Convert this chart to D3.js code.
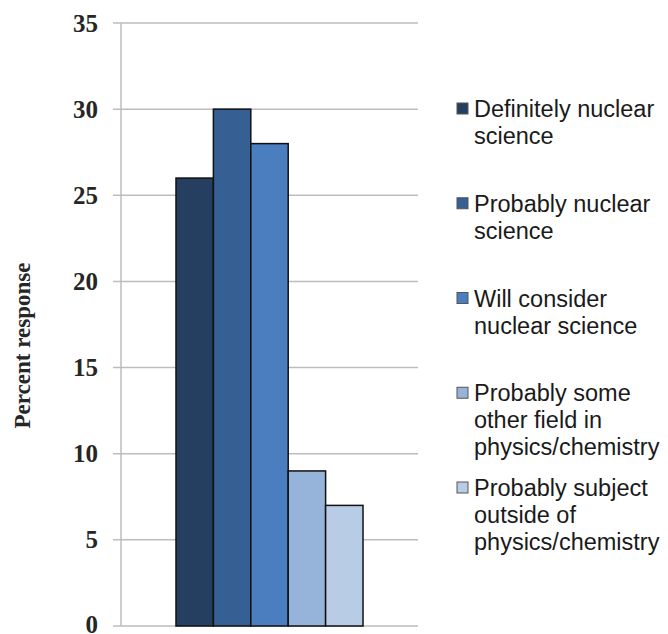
<!DOCTYPE html>
<html>
<head>
<meta charset="utf-8">
<script src="https://cdn.jsdelivr.net/npm/d3@7"></script>
<style>
    body { margin: 0; background: #fff; }
</style>
</head>
<body>
<svg id="chart" width="668" height="634"></svg>
<script>
// data
var categories = ["Response"];
var seriesNames = [
    "Definitely nuclear science",
    "Probably nuclear science",
    "Will consider nuclear science",
    "Probably some other field in physics/chemistry",
    "Probably subject outside of physics/chemistry"
];
var legendLines = [
    ["Definitely nuclear", "science"],
    ["Probably nuclear", "science"],
    ["Will consider", "nuclear science"],
    ["Probably some", "other field in", "physics/chemistry"],
    ["Probably subject", "outside of", "physics/chemistry"]
];
var values = [26, 30, 28, 9, 7];
var seriesColors = ["#253f61", "#365f94", "#4a7ebf", "#96b3d9", "#b9cce6"];
var yTicks = [0, 5, 10, 15, 20, 25, 30, 35];

var svg = d3.select("#chart");

var plot = { left: 121, right: 418, top: 23, bottom: 626 };

var y = d3.scaleLinear()
    .domain([0, 35])
    .range([plot.bottom, plot.top]);

var x0 = d3.scaleBand()
    .domain(categories)
    .range([plot.left, plot.right])
    .paddingInner(0)
    .paddingOuter(0.294);

var x1 = d3.scaleBand()
    .domain(seriesNames)
    .range([0, x0.bandwidth()]);

// gridlines
svg.append("g")
    .selectAll("line")
    .data(yTicks)
    .enter()
    .append("line")
    .attr("x1", plot.left - 8)
    .attr("x2", plot.right)
    .attr("y1", d => y(d))
    .attr("y2", d => y(d))
    .attr("stroke", "#bdbdbd")
    .attr("stroke-width", 1.5);

// y axis line
svg.append("line")
    .attr("x1", plot.left)
    .attr("x2", plot.left)
    .attr("y1", y(35))
    .attr("y2", y(0))
    .attr("stroke", "#bdbdbd")
    .attr("stroke-width", 1.5);

// tick labels (the bottom one sits right on the edge, like the original)
svg.append("g")
    .selectAll("text")
    .data(yTicks)
    .enter()
    .append("text")
    .attr("x", 98)
    .attr("y", d => Math.min(y(d) + 8.5, 633))
    .attr("text-anchor", "end")
    .attr("font-family", "'Liberation Serif', serif")
    .attr("font-weight", "bold")
    .attr("font-size", 25)
    .attr("fill", "#262626")
    .text(d => d);

// axis title
svg.append("text")
    .attr("transform", "translate(30," + ((plot.top + plot.bottom) / 2 + 21) + ") rotate(-90)")
    .attr("text-anchor", "middle")
    .attr("font-family", "'Liberation Serif', serif")
    .attr("font-weight", "bold")
    .attr("font-size", 23)
    .attr("fill", "#262626")
    .text("Percent response");

// bars
var group = svg.append("g")
    .attr("transform", "translate(" + x0(categories[0]) + ",0)");

group.selectAll("rect")
    .data(values)
    .enter()
    .append("rect")
    .attr("x", (d, i) => x1(seriesNames[i]))
    .attr("y", d => y(d))
    .attr("width", x1.bandwidth())
    .attr("height", d => y(0) - y(d))
    .attr("fill", (d, i) => seriesColors[i])
    .attr("stroke", "#111")
    .attr("stroke-width", 1.5);

// legend
var legendY = d3.scalePoint()
    .domain(seriesNames)
    .range([117, 496]);

var legend = svg.append("g")
    .selectAll(".legendItem")
    .data(seriesNames)
    .enter()
    .append("g")
    .classed("legendItem", true)
    .attr("transform", d => "translate(0," + legendY(d) + ")");

legend.append("rect")
    .attr("x", 457)
    .attr("y", -14)
    .attr("width", 11)
    .attr("height", 11)
    .attr("fill", (d, i) => seriesColors[i])
    .attr("stroke", "#555")
    .attr("stroke-width", 1);

legend.append("text")
    .attr("font-family", "'Liberation Sans', Arial, sans-serif")
    .attr("font-size", 23.5)
    .attr("fill", "#1a1a1a")
    .each(function (d, i) {
        d3.select(this)
            .selectAll("tspan")
            .data(legendLines[i])
            .enter()
            .append("tspan")
            .attr("x", 474)
            .attr("y", (t, j) => j * 27)
            .text(t => t);
    });
</script>
</body>
</html>
